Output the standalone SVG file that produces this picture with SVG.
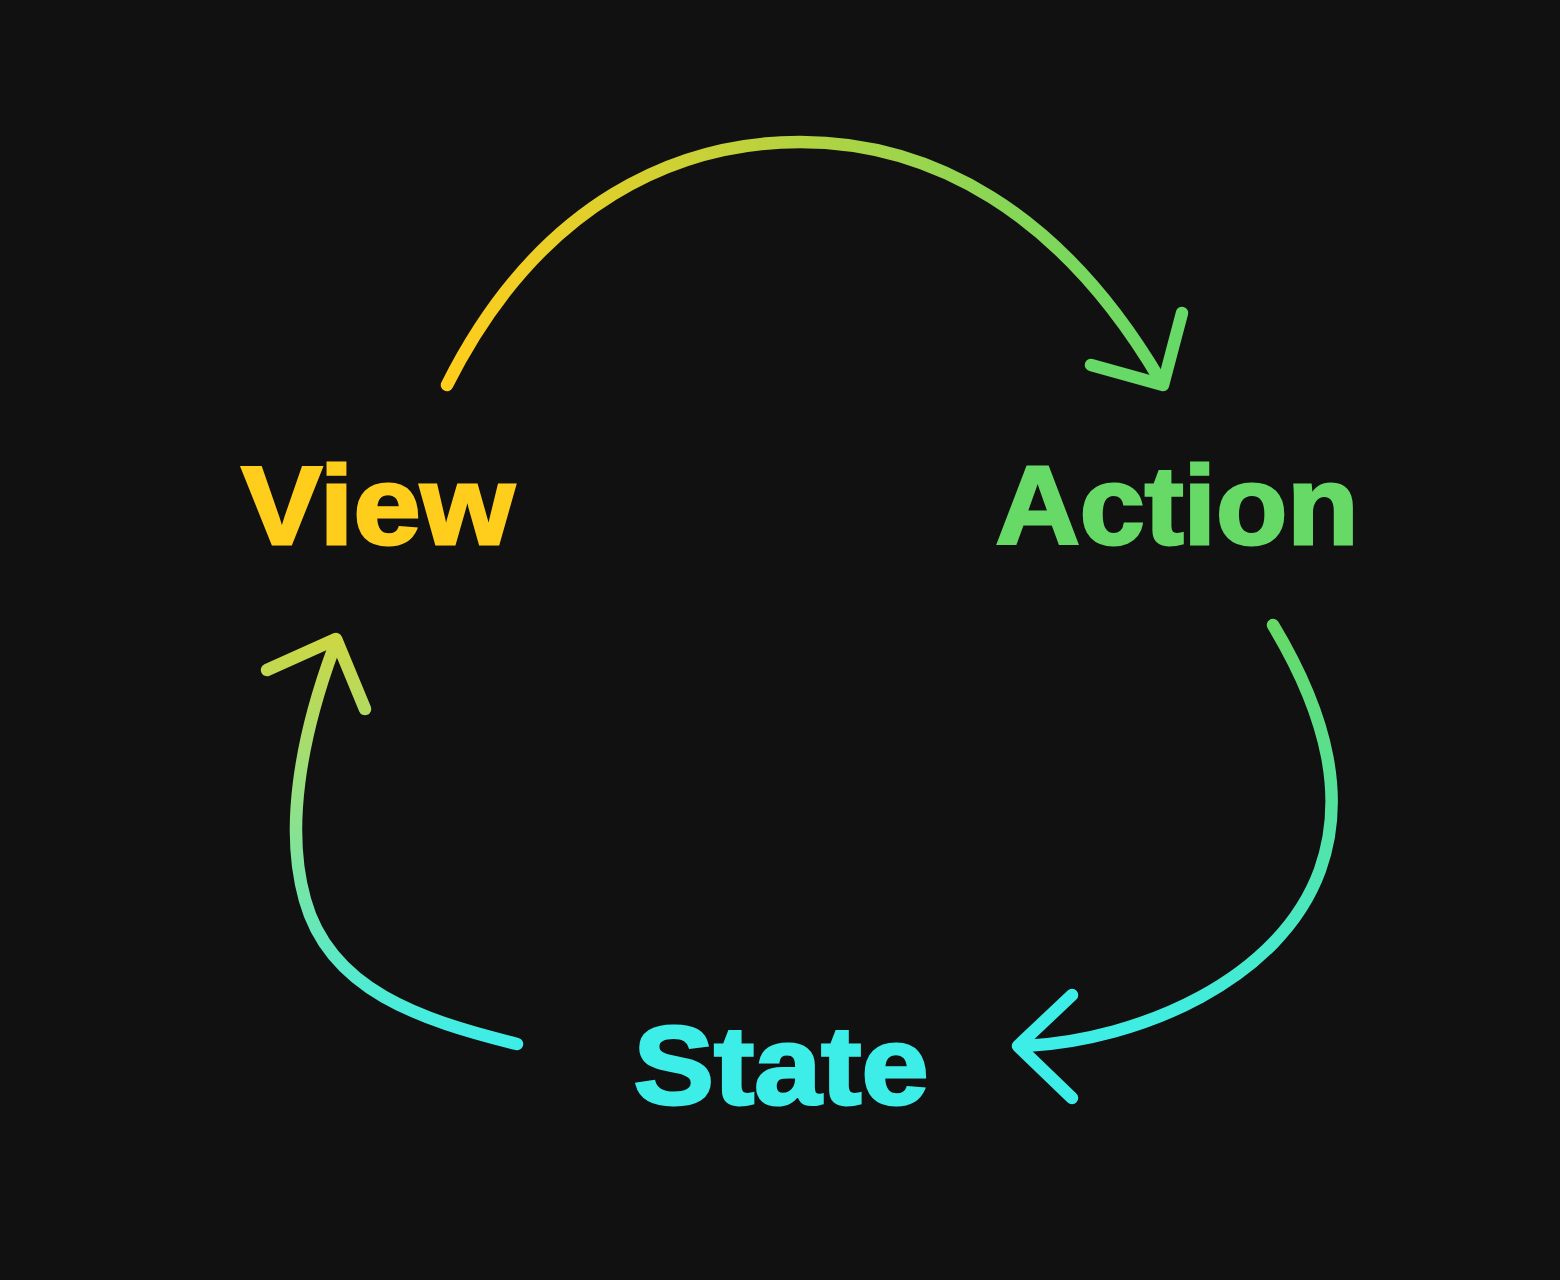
<svg xmlns="http://www.w3.org/2000/svg" width="1560" height="1280" viewBox="0 0 1560 1280">
<defs>
<linearGradient id="gTop" gradientUnits="userSpaceOnUse" x1="447" y1="0" x2="1163" y2="0">
<stop offset="0" stop-color="#FFCD1C"/><stop offset="1" stop-color="#66D966"/>
</linearGradient>
<linearGradient id="gRight" gradientUnits="userSpaceOnUse" x1="0" y1="625" x2="0" y2="1046">
<stop offset="0" stop-color="#66D966"/><stop offset="1" stop-color="#3DEEE8"/>
</linearGradient>
<linearGradient id="gLeft" gradientUnits="userSpaceOnUse" x1="0" y1="1044" x2="0" y2="640">
<stop offset="0" stop-color="#3DEEE8"/><stop offset="1" stop-color="#CCD744"/>
</linearGradient>
<style>
.c{fill:none;stroke-width:12.5;stroke-linecap:round;stroke-linejoin:round}
.t{font-family:"Liberation Sans",Arial,sans-serif;font-weight:bold;font-size:112px;stroke-width:3;stroke-linejoin:miter}
</style>
</defs>
<rect width="1560" height="1280" fill="#111111"/>
<g id="connectors">
<g id="view-to-action">
<path class="c" stroke="url(#gTop)" d="M447,385 C540,200 680,142 800,142 C930,142 1060,210 1160,380"/>
<polyline class="c" stroke="#66D966" points="1091,365 1163,385 1182,313"/>
</g>
<g id="action-to-state">
<path class="c" stroke="url(#gRight)" d="M1273,625 C1330,720 1345,800 1320,870 C1280,980 1140,1040 1025,1046"/>
<polyline class="c" stroke="#3DEEE8" points="1072,995 1018,1046 1072,1098"/>
</g>
<g id="state-to-view">
<path class="c" stroke="url(#gLeft)" d="M517,1044 C420,1020 330,990 305,900 C285,830 300,740 333,650"/>
<polyline class="c" stroke="url(#gLeft)" points="267,670 336,639 365,709"/>
</g>
</g>
<g id="view"><text class="t" x="241.5" y="543.5" fill="#FFCD1C" stroke="#FFCD1C" textLength="273" lengthAdjust="spacingAndGlyphs">View</text></g>
<g id="action"><text class="t" x="995.5" y="543.5" fill="#66D966" stroke="#66D966" textLength="363" lengthAdjust="spacingAndGlyphs">Action</text></g>
<g id="state"><text class="t" x="633.5" y="1103.5" fill="#3DEEE8" stroke="#3DEEE8" textLength="295" lengthAdjust="spacingAndGlyphs">State</text></g>
</svg>
